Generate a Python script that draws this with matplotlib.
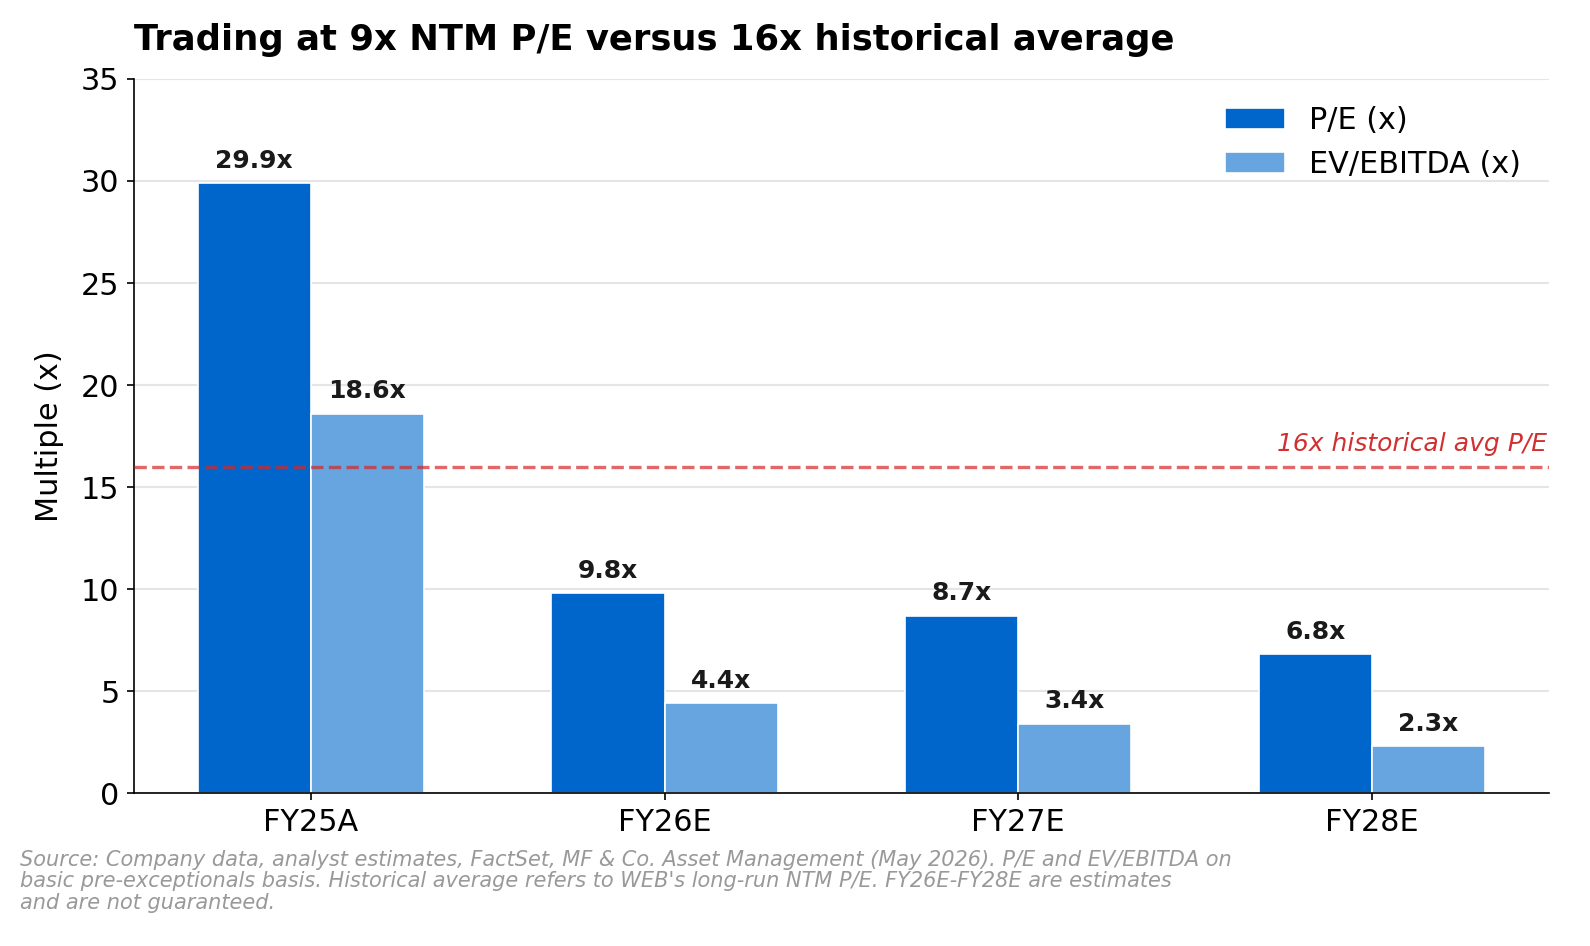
import numpy as np
import matplotlib.pyplot as plt

# data
years = ["FY25A", "FY26E", "FY27E", "FY28E"]
pe = [29.9, 9.8, 8.7, 6.8]
ev_ebitda = [18.6, 4.4, 3.4, 2.3]
hist_avg_pe = 16

c_pe = "#0066CC"
c_ev = "#66A5E0"

fig = plt.figure(figsize=(10.6, 946 / 150), dpi=150)
ax = fig.add_axes([0.0843, 0.1617, 0.8897, 0.7548])

x = np.arange(len(years))
w = 0.32
b1 = ax.bar(x - w / 2, pe, w, color=c_pe, edgecolor="white", linewidth=0.8, label="P/E (x)", zorder=2)
b2 = ax.bar(x + w / 2, ev_ebitda, w, color=c_ev, edgecolor="white", linewidth=0.8, label="EV/EBITDA (x)", zorder=2)

for bars, vals in [(b1, pe), (b2, ev_ebitda)]:
    for r, v in zip(bars, vals):
        ax.text(r.get_x() + r.get_width() / 2, v + 0.5, f"{v:.1f}x",
                ha="center", va="bottom", fontsize=12, fontweight="bold", color="#1a1a1a")

# historical average line (over the bars)
ax.axhline(hist_avg_pe, color="#D62728", alpha=0.7, linestyle="--", linewidth=1.6, zorder=3)
ax.text(3.5 - 0.005, hist_avg_pe + 0.5, "16x historical avg P/E", ha="right", va="bottom",
        fontsize=12, style="italic", color="#D03030")

ax.set_xlim(-0.5, 3.5)
ax.set_ylim(0, 35)
ax.set_xticks(x)
ax.set_xticklabels(years, fontsize=14.5)
ax.tick_params(axis="y", labelsize=14.5)
ax.set_ylabel("Multiple (x)", fontsize=14.5, labelpad=8)
ax.yaxis.grid(True, color="#e5e5e5", linewidth=1, zorder=0)
ax.set_axisbelow(True)
for s in ["top", "right"]:
    ax.spines[s].set_visible(False)

ax.legend(loc="upper right", frameon=False, fontsize=14.5, handlelength=2.0, handleheight=0.7)

ax.set_title("Trading at 9x NTM P/E versus 16x historical average", loc="left",
             fontsize=17, fontweight="bold", pad=14)

fig.text(0.0126, 0.035,
         "Source: Company data, analyst estimates, FactSet, MF & Co. Asset Management (May 2026). P/E and EV/EBITDA on\n"
         "basic pre-exceptionals basis. Historical average refers to WEB's long-run NTM P/E. FY26E-FY28E are estimates\n"
         "and are not guaranteed.",
         fontsize=10, style="italic", color="#999999", ha="left", va="bottom", linespacing=1.1)

fig.savefig("out.png", dpi=150)
